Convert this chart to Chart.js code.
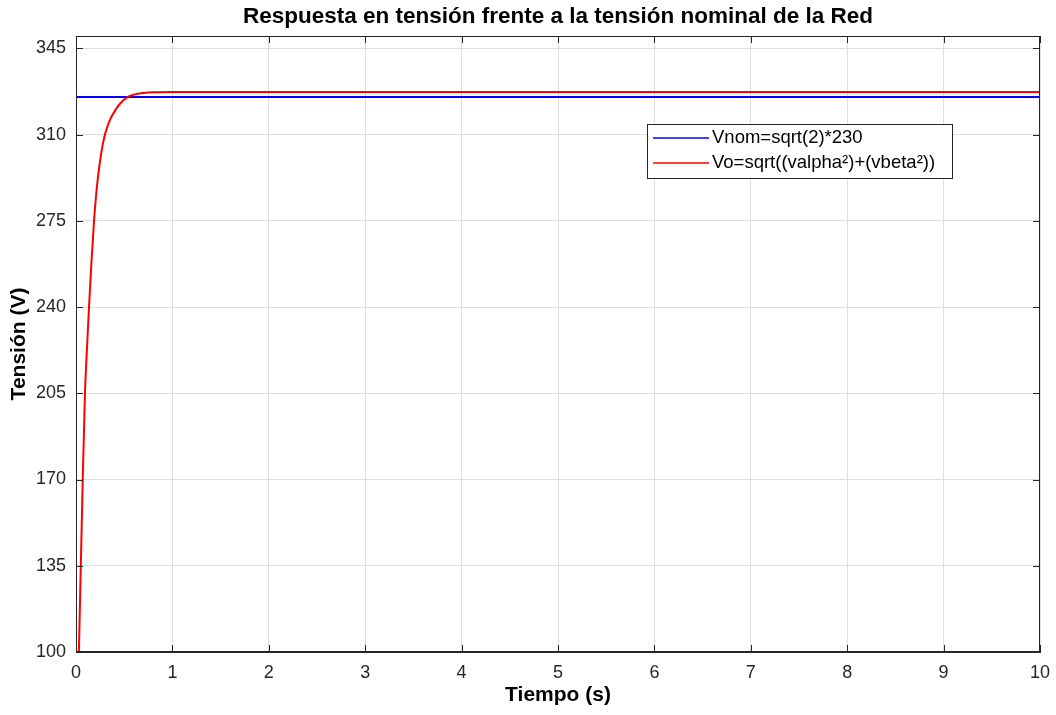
<!DOCTYPE html>
<html>
<head>
<meta charset="utf-8">
<script src="https://cdn.jsdelivr.net/npm/chart.js@4/dist/chart.umd.min.js"></script>
<style>
  html, body { margin: 0; padding: 0; background: #fff; }
  #wrap { width: 1056px; height: 715px; }
</style>
</head>
<body>
<div id="wrap"><canvas id="chartTension" width="1056" height="715"></canvas></div>
<script>
// Respuesta en tensión — Vo vs Vnom

var titleText  = 'Respuesta en tensión frente a la tensión nominal de la Red';
var xTitle     = 'Tiempo (s)';
var yTitle     = 'Tensión (V)';

var xTicks = [0, 1, 2, 3, 4, 5, 6, 7, 8, 9, 10];
var yTicks = [100, 135, 170, 205, 240, 275, 310, 345];

// Vnom = sqrt(2)*230
var nomLabel = 'Vnom=sqrt(2)*230';
var nomTime  = [0, 10];
var nomVolt  = [325.27, 325.27];

// Vo = sqrt(valpha^2 + vbeta^2)
var voLabel = 'Vo=sqrt((valpha²)+(vbeta²))';
var voTime  = [0.03, 0.05, 0.07, 0.093, 0.115, 0.135, 0.16, 0.187, 0.22, 0.26, 0.30, 0.35, 0.40, 0.46, 0.53, 0.60, 0.70, 0.80, 1.0, 2.0, 10.0];
var voVolt  = [100, 135, 170, 205, 224, 240, 258, 275, 290, 302, 310, 315.8, 319.4, 322.7, 325.1, 326.2, 326.9, 327.2, 327.3, 327.3, 327.3];

function pairs(xs, ys) {
    return xs.map(function (x, i) { return { x: x, y: ys[i] }; });
}

var FONT = "'Liberation Sans', Arial, Helvetica, sans-serif";
var AXIS = '#262626';

// ── title, box, inner ticks and legend (MATLAB look) ─────────────────────
var matlabLook = {
    id: 'matlabLook',
    afterDraw: function (chart) {
        var ctx = chart.ctx, a = chart.chartArea;
        var xs = chart.scales.x, ys = chart.scales.y;
        ctx.save();

        ctx.strokeStyle = AXIS;
        ctx.lineWidth = 1;
        ctx.strokeRect(a.left + 0.5, a.top + 0.5, a.right - a.left - 1, a.bottom - a.top - 1);

        ctx.beginPath();
        xTicks.forEach(function (v) {
            var px = Math.round(xs.getPixelForValue(v)) + 0.5;
            ctx.moveTo(px, a.bottom); ctx.lineTo(px, a.bottom - 7);
            ctx.moveTo(px, a.top);    ctx.lineTo(px, a.top + 7);
        });
        yTicks.forEach(function (v) {
            var py = Math.round(ys.getPixelForValue(v)) + 0.5;
            ctx.moveTo(a.left, py);  ctx.lineTo(a.left + 7, py);
            ctx.moveTo(a.right, py); ctx.lineTo(a.right - 7, py);
        });
        ctx.stroke();

        // title centred on plot area
        ctx.fillStyle = '#000';
        ctx.font = 'bold 22.5px ' + FONT;
        ctx.textAlign = 'center';
        ctx.textBaseline = 'middle';
        ctx.fillText(titleText, (a.left + a.right) / 2, 17);

        // legend box
        var lx = 647, ly = 124, lw = 305, lh = 54;
        ctx.fillStyle = '#fff';
        ctx.fillRect(lx, ly, lw, lh);
        ctx.strokeStyle = AXIS;
        ctx.strokeRect(lx + 0.5, ly + 0.5, lw, lh);
        ctx.font = '18.5px ' + FONT;
        ctx.textAlign = 'left';
        chart.data.datasets.forEach(function (ds, i) {
            var yy = ly + 14 + i * 25;
            ctx.strokeStyle = ds.borderColor;
            ctx.lineWidth = 1.5;
            ctx.beginPath();
            ctx.moveTo(lx + 6, yy); ctx.lineTo(lx + 62, yy);
            ctx.stroke();
            ctx.fillStyle = '#000';
            ctx.fillText(ds.label, lx + 65, yy);
        });
        ctx.restore();
    }
};

new Chart(document.getElementById('chartTension'), {
    type: 'line',
    data: {
        datasets: [{
            label: nomLabel,
            data: pairs(nomTime, nomVolt),
            borderColor: '#0000ff',
            borderWidth: 2,
            pointRadius: 0,
            order: 1
        }, {
            label: voLabel,
            data: pairs(voTime, voVolt),
            borderColor: '#ff0000',
            borderWidth: 2,
            pointRadius: 0,
            cubicInterpolationMode: 'monotone',
            order: 0
        }]
    },
    plugins: [matlabLook],
    options: {
        responsive: false,
        animation: false,
        layout: { padding: { top: 36, right: 16, left: 0, bottom: 0 } },
        plugins: {
            legend: { display: false },
            tooltip: { enabled: false },
            title: { display: false }
        },
        scales: {
            x: {
                type: 'linear',
                min: 0, max: 10,
                afterBuildTicks: function (s) { s.ticks = xTicks.map(function (v) { return { value: v }; }); },
                afterFit: function (s) { s.height = 63; s.paddingLeft = 0; s.paddingRight = 0; },
                grid: { color: '#dedede', drawTicks: false },
                border: { color: AXIS },
                ticks: { color: AXIS, padding: 10, maxRotation: 0, font: { family: FONT, size: 18 } },
                title: { display: true, text: xTitle, color: '#000', padding: { top: 0, bottom: 7 }, font: { family: FONT, size: 21, weight: 'bold' } }
            },
            y: {
                type: 'linear',
                min: 100, max: 350,
                afterBuildTicks: function (s) { s.ticks = yTicks.map(function (v) { return { value: v }; }); },
                afterFit: function (s) { s.width = 76; s.paddingTop = 0; s.paddingBottom = 0; },
                grid: { color: '#dedede', drawTicks: false },
                border: { color: AXIS },
                ticks: { color: AXIS, padding: 10, font: { family: FONT, size: 18 } },
                title: { display: true, text: yTitle, color: '#000', padding: { top: 7, bottom: 0 }, font: { family: FONT, size: 21, weight: 'bold' } }
            }
        }
    }
});
</script>
</body>
</html>
